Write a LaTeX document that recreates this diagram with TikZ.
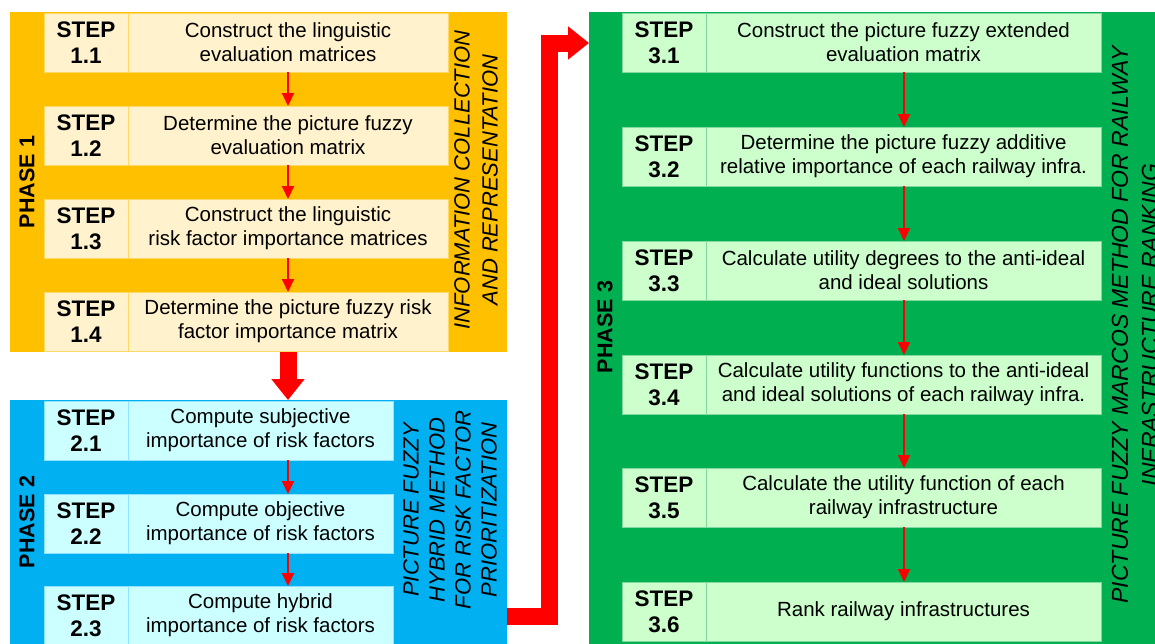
\documentclass[tikz,border=0pt]{standalone}
\usepackage{fontspec}
\setmainfont{Liberation Sans}
\usetikzlibrary{arrows.meta}
\definecolor{orgbg}{HTML}{FFC000}
\definecolor{orglt}{HTML}{FFF2CC}
\definecolor{orgln}{HTML}{FFD966}
\definecolor{blubg}{HTML}{00B0F0}
\definecolor{blult}{HTML}{CCFFFF}
\definecolor{bluln}{HTML}{8FE3FF}
\definecolor{grnbg}{HTML}{00B050}
\definecolor{grnlt}{HTML}{CCFFCC}
\definecolor{grnln}{HTML}{80D9A0}
\definecolor{arrred}{HTML}{FF0000}
\newcommand\mystep[8]{%
  \node[stepcell, fill=#5, draw=#6, anchor=north west] (s#1) at (#2,#3) {STEP\\#7};
  \node[textcell, fill=#5, draw=#6, minimum width=#4, anchor=north west] (t#1) at (s#1.north east) {#8};
}
\begin{document}
\begin{tikzpicture}[x=1pt,y=-1pt,
  phasebox/.style={rectangle, inner sep=0pt, outer sep=0pt},
  stepcell/.style={rectangle, inner sep=0pt, outer sep=0pt, line width=0.8pt,
    minimum width=84, minimum height=59, align=center,
    font=\fontsize{22.5}{26}\selectfont\bfseries},
  textcell/.style={rectangle, inner sep=0pt, outer sep=0pt, line width=0.8pt,
    minimum height=59, align=center,
    font=\fontsize{20.5}{24}\selectfont},
  phaselabel/.style={rotate=90, inner sep=0pt, font=\fontsize{21.5}{26}\selectfont\bfseries},
  sidelabel/.style={rotate=90, inner sep=0pt, align=center, font=\fontsize{22}{28}\selectfont\itshape},
  smallarrow/.style={draw=arrred, line width=2pt, -{Triangle[width=12pt,length=13pt]}},
  bigarrow/.style={draw=arrred, line width=17pt, line join=miter, line cap=butt,
    -{Triangle[width=32pt,length=21pt]}}
]
\clip (0,0) rectangle (1155,643);
\fill[white] (0,0) rectangle (1155,643);

% phase panels
\node[phasebox, fill=orgbg, minimum width=497, minimum height=340, anchor=north west] (p1) at (10,12) {};
\node[phasebox, fill=blubg, minimum width=497, minimum height=260, anchor=north west] (p2) at (10,400) {};
\node[phasebox, fill=grnbg, minimum width=580, minimum height=650, anchor=north west] (p3) at (589,12) {};

% phase 1 steps
\mystep{11}{44}{13}{320}{orglt}{orgln}{1.1}{Construct the linguistic\\evaluation matrices}
\mystep{12}{44}{106}{320}{orglt}{orgln}{1.2}{Determine the picture fuzzy\\evaluation matrix}
\mystep{13}{44}{199}{320}{orglt}{orgln}{1.3}{Construct the linguistic\\risk factor importance matrices}
\mystep{14}{44}{292}{320}{orglt}{orgln}{1.4}{Determine the picture fuzzy risk\\factor importance matrix}

% phase 2 steps
\mystep{21}{44}{401}{265}{blult}{bluln}{2.1}{Compute subjective\\importance of risk factors}
\mystep{22}{44}{494}{265}{blult}{bluln}{2.2}{Compute objective\\importance of risk factors}
\mystep{23}{44}{586}{265}{blult}{bluln}{2.3}{Compute hybrid\\importance of risk factors}

% phase 3 steps
\mystep{31}{622}{13}{395}{grnlt}{grnln}{3.1}{Construct the picture fuzzy extended\\evaluation matrix}
\mystep{32}{622}{127}{395}{grnlt}{grnln}{3.2}{Determine the picture fuzzy additive\\relative importance of each railway infra.}
\mystep{33}{622}{241}{395}{grnlt}{grnln}{3.3}{Calculate utility degrees to the anti-ideal\\and ideal solutions}
\mystep{34}{622}{355}{395}{grnlt}{grnln}{3.4}{Calculate utility functions to the anti-ideal\\and ideal solutions of each railway infra.}
\mystep{35}{622}{468}{395}{grnlt}{grnln}{3.5}{Calculate the utility function of each\\railway infrastructure}
\mystep{36}{622}{582}{395}{grnlt}{grnln}{3.6}{Rank railway infrastructures}

% phase labels
\node[phaselabel] (l1) at (27,182) {PHASE 1};
\node[phaselabel] (l2) at (27,522) {PHASE 2};
\node[phaselabel] (l3) at (605,327) {PHASE 3};

\node[sidelabel] (m1) at (476,180) {INFORMATION COLLECTION\\AND REPRESENTATION};
\node[sidelabel, font=\fontsize{22}{26}\selectfont\itshape] (m2) at (450,510) {PICTURE FUZZY\\HYBRID METHOD\\FOR RISK FACTOR\\PRIORITIZATION};
\node[sidelabel, font=\fontsize{23}{30}\selectfont\itshape] (m3) at (1135,325) {PICTURE FUZZY MARCOS METHOD FOR RAILWAY\\INFRASTRUCTURE RANKING};

% small arrows
\coordinate (axis) at (288,0);
\coordinate (axisg) at (904,0);
\draw[smallarrow] (t11.south -| axis) -- (t12.north -| axis);
\draw[smallarrow] (t12.south -| axis) -- (t13.north -| axis);
\draw[smallarrow] (t13.south -| axis) -- (t14.north -| axis);
\draw[smallarrow] (t21.south -| axis) -- (t22.north -| axis);
\draw[smallarrow] (t22.south -| axis) -- (t23.north -| axis);
\draw[smallarrow] (t31.south -| axisg) -- (t32.north -| axisg);
\draw[smallarrow] (t32.south -| axisg) -- (t33.north -| axisg);
\draw[smallarrow] (t33.south -| axisg) -- (t34.north -| axisg);
\draw[smallarrow] (t34.south -| axisg) -- (t35.north -| axisg);
\draw[smallarrow] (t35.south -| axisg) -- (t36.north -| axisg);

% big arrows
\coordinate (ylow) at (0,616);
\coordinate (yhigh) at (0,43);
\coordinate (xriser) at (549.5,0);
\draw[bigarrow] (p1.south -| axis) -- (p2.north -| axis);
\draw[bigarrow] (p2.east |- ylow) -- (xriser |- ylow) -- (xriser |- yhigh) -- (p3.west |- yhigh);
\end{tikzpicture}
\end{document}
